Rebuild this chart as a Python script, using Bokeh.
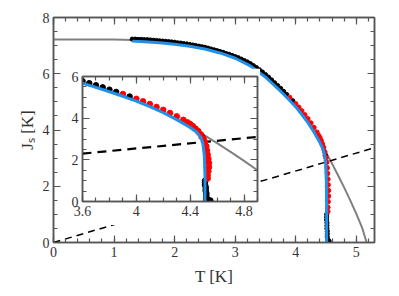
from bokeh.plotting import figure
from bokeh.models import (SingleIntervalTicker, LinearAxis, Range1d, CustomJSTickFormatter)
from bokeh.embed import file_html
from bokeh.resources import INLINE

# ---------------- data ----------------
# theory curve (grey)
grey_T = [0.0, 1.0, 1.3, 1.5, 1.75, 2.0, 2.25, 2.5, 2.75, 3.0, 3.25, 3.5, 3.6, 3.7,
          3.8, 3.9, 4.0, 4.1, 4.2, 4.3, 4.4, 4.5, 4.6, 4.7, 4.8, 4.9, 5.0, 5.1, 5.17]
grey_J = [7.22, 7.22, 7.2, 7.17, 7.13, 7.08, 7.01, 6.91, 6.77, 6.58, 6.31, 5.91, 5.71, 5.51,
          5.3, 5.08, 4.85, 4.58, 4.29, 3.96, 3.6, 3.2, 2.8, 2.38, 1.95, 1.5, 1.02, 0.5, 0.0]

# fit curve (blue)
blue_T = [1.3, 1.5, 1.75, 2.0, 2.25, 2.5, 2.75, 3.0, 3.25, 3.5, 3.6, 3.7, 3.8, 3.9, 4.0,
          4.1, 4.2, 4.3, 4.4, 4.45, 4.48, 4.495, 4.505, 4.51, 4.51]
blue_J = [7.16, 7.14, 7.1, 7.05, 6.98, 6.88, 6.74, 6.55, 6.28, 5.88, 5.68, 5.48, 5.27, 5.05, 4.82,
          4.55, 4.26, 3.93, 3.55, 3.32, 3.08, 2.75, 2.2, 1.2, 0.0]

# BKT line (dashed), endpoints
bkt_T = [0.0, 5.3]
bkt_J = [0.0, 3.37]
bkt_in_T = [3.6, 4.9]
bkt_in_J = [2.3, 3.1]

# black data points
black_T = [1.30, 1.35, 1.40, 1.45, 1.50, 1.55, 1.60, 1.65, 1.70, 1.75, 1.80, 1.85, 1.90,
           1.95, 2.00, 2.05, 2.10, 2.15, 2.20, 2.25, 2.30, 2.35, 2.40, 2.45, 2.50, 2.55,
           2.60, 2.65, 2.70, 2.75, 2.80, 2.85, 2.90, 2.95, 3.00, 3.05, 3.10, 3.15, 3.20,
           3.25, 3.30, 3.35, 3.40, 3.45, 3.50, 3.55, 3.60, 3.65, 3.70, 3.75, 3.80, 3.85,
           3.95, 4.49, 4.51, 4.51, 4.51, 4.515, 4.515, 4.515, 4.52, 4.52, 4.52, 4.53, 4.55]
black_J = [7.23, 7.23, 7.22, 7.22, 7.21, 7.21, 7.20, 7.19, 7.18, 7.17, 7.16, 7.15, 7.14,
           7.13, 7.12, 7.10, 7.09, 7.07, 7.06, 7.04, 7.02, 7.00, 6.98, 6.96, 6.94, 6.91,
           6.88, 6.85, 6.82, 6.79, 6.76, 6.72, 6.69, 6.65, 6.61, 6.57, 6.52, 6.47, 6.42,
           6.36, 6.29, 6.22, 6.14, 6.06, 5.97, 5.88, 5.78, 5.68, 5.58, 5.48, 5.37, 5.26,
           5.04, 3.10, 1.00, 0.90, 0.80, 0.70, 0.60, 0.50, 0.40, 0.30, 0.20, 0.10, 0.05]

# red data points
red_T = [3.90, 4.00, 4.05, 4.10, 4.15, 4.20, 4.25, 4.30, 4.35, 4.38, 4.40, 4.42, 4.44,
         4.46, 4.48, 4.50, 4.51, 4.52, 4.525, 4.53, 4.535, 4.54, 4.54, 4.535, 4.53, 4.53]
red_J = [5.16, 4.93, 4.81, 4.68, 4.54, 4.40, 4.25, 4.09, 3.92, 3.80, 3.72, 3.62, 3.50,
         3.38, 3.22, 3.02, 2.85, 2.65, 2.45, 2.25, 2.05, 1.85, 1.65, 1.45, 1.25, 1.10]

# faint red data points
pale_T = [4.32, 4.36, 4.40, 4.43, 4.46, 4.48, 4.50, 4.51, 4.515, 4.52, 4.52, 4.525, 4.53]
pale_J = [3.95, 3.82, 3.65, 3.50, 3.30, 3.10, 2.90, 2.70, 2.50, 2.30, 2.00, 1.80, 1.60]

FONT = "Liberation Serif"
AX = "#555555"
BLUE = "#2190e8"


def style(fig, xint, xminor, yint, yminor, fmt=None):
    bottom, left = fig.below[0], fig.left[0]
    bottom.ticker = SingleIntervalTicker(interval=xint, num_minor_ticks=xminor)
    left.ticker = SingleIntervalTicker(interval=yint, num_minor_ticks=yminor)
    if fmt is not None:
        bottom.formatter = fmt
    blank = CustomJSTickFormatter(code="return ''")
    top = LinearAxis(ticker=SingleIntervalTicker(interval=xint, num_minor_ticks=xminor),
                     formatter=blank)
    right = LinearAxis(ticker=SingleIntervalTicker(interval=yint, num_minor_ticks=yminor),
                       formatter=blank)
    fig.add_layout(top, "above")
    fig.add_layout(right, "right")
    for ax in [bottom, left, top, right]:
        ax.axis_line_color = AX
        ax.axis_line_width = 1.5
        ax.major_tick_line_color = AX
        ax.minor_tick_line_color = AX
        ax.major_tick_line_width = 1.2
        ax.minor_tick_line_width = 1.2
        ax.major_tick_in = 7
        ax.major_tick_out = 0
        ax.minor_tick_in = 4
        ax.minor_tick_out = 0
        ax.major_label_text_font = FONT
        ax.major_label_text_font_size = "14px"
        ax.major_label_text_color = "#333333"
        ax.major_label_standoff = 4
    for ax in [top, right]:
        ax.major_label_standoff = 0
    fig.grid.visible = False
    fig.outline_line_color = AX
    fig.outline_line_width = 1.5
    return bottom, left


# ---------------- main figure ----------------
p = figure(width=391, height=288, x_range=Range1d(0, 5.3), y_range=Range1d(0, 8),
           output_backend="svg", toolbar_location=None,
           min_border_left=53, min_border_right=17, min_border_top=17, min_border_bottom=44)
bx, ly = style(p, 1, 5, 2, 4)
bx.axis_label = "T [K]"
ly.axis_label = "J\u209b [K]"
for ax in [bx, ly]:
    ax.axis_label_text_font = FONT
    ax.axis_label_text_font_size = "17px"
    ax.axis_label_text_font_style = "normal"
    ax.axis_label_text_color = "#333333"
bx.axis_label_standoff = 7
ly.axis_label_standoff = 3

p.line(grey_T, grey_J, line_color="#808080", line_width=2)
p.line(bkt_T, bkt_J, line_color="black", line_width=1.5, line_dash="7 5")
p.scatter(black_T, black_J, size=4.2, color="black")
p.scatter(red_T, red_J, size=4.5, color="red")
p.scatter(pale_T, pale_J, size=4.5, color="red", alpha=0.3)
p.line(blue_T, blue_J, line_color=BLUE, line_width=3)

# ---------------- inset ----------------
q = figure(width=196, height=157, x_range=Range1d(3.6, 4.9), y_range=Range1d(0, 6),
           output_backend="svg", toolbar_location=None,
           min_border_left=18, min_border_right=3, min_border_top=8, min_border_bottom=24,
           styles={"position": "absolute", "left": "64px", "top": "68px", "z-index": "10"})
style(q, 0.4, 4, 2, 4,
      fmt=CustomJSTickFormatter(code="return String(Number(tick.toFixed(1)))"))

q.line(grey_T, grey_J, line_color="#808080", line_width=2)
q.line(bkt_in_T, bkt_in_J, line_color="black", line_width=2.2, line_dash="9 6")
q.scatter(black_T, black_J, size=5.5, color="black")
q.scatter(red_T, red_J, size=5.5, color="red")
q.scatter(pale_T, pale_J, size=5.5, color="red", alpha=0.3)
q.line(blue_T, blue_J, line_color=BLUE, line_width=3)

open("out.html", "w").write(file_html([p, q], INLINE))
